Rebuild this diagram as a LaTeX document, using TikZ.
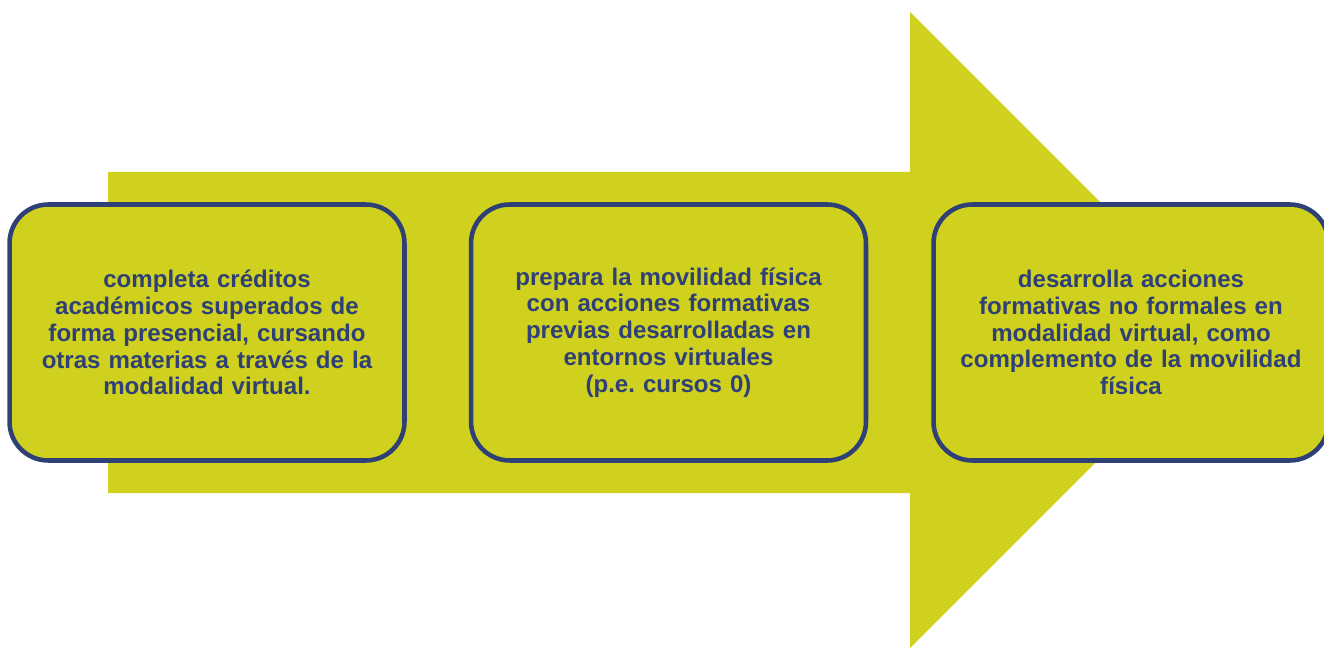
\documentclass[tikz,border=0pt]{standalone}
\usepackage{fontspec}
\setmainfont{Liberation Sans}
\frenchspacing
\definecolor{lime}{HTML}{CFD11E}
\definecolor{navy}{HTML}{2F4077}
\begin{document}
\begin{tikzpicture}[x=0.02cm,y=-0.02cm,
stage/.style={draw=navy,fill=lime,line width=2.6pt,rounded corners=22pt,
    minimum width=7.9cm,minimum height=5.12cm,text width=7.4cm,align=center,
    text=navy,font=\fontsize{13.7}{15.3}\selectfont\bfseries,inner sep=0pt}]
\clip (0,0) rectangle (1324,648);
\useasboundingbox (0,0) rectangle (1324,648);
\fill[lime] (108,172) -- (910,172) -- (910,12) -- (1228,330) -- (910,648)
    -- (910,493) -- (108,493) -- cycle;
\node[stage](box1) at (207,332.5){completa créditos\\ académicos superados de\\
    forma presencial, cursando\\ otras materias a través de la\\ modalidad virtual.};
\node[stage](box2) at (668.5,332.5){prepara la movilidad física\\ con acciones formativas\\
    previas desarrolladas en\\ entornos virtuales\\ (p.e. cursos 0)};
\node[stage](box3) at (1131,332.5){desarrolla acciones\\ formativas no formales en\\
    modalidad virtual, como\\ complemento de la movilidad\\ física};
\end{tikzpicture}
\end{document}
